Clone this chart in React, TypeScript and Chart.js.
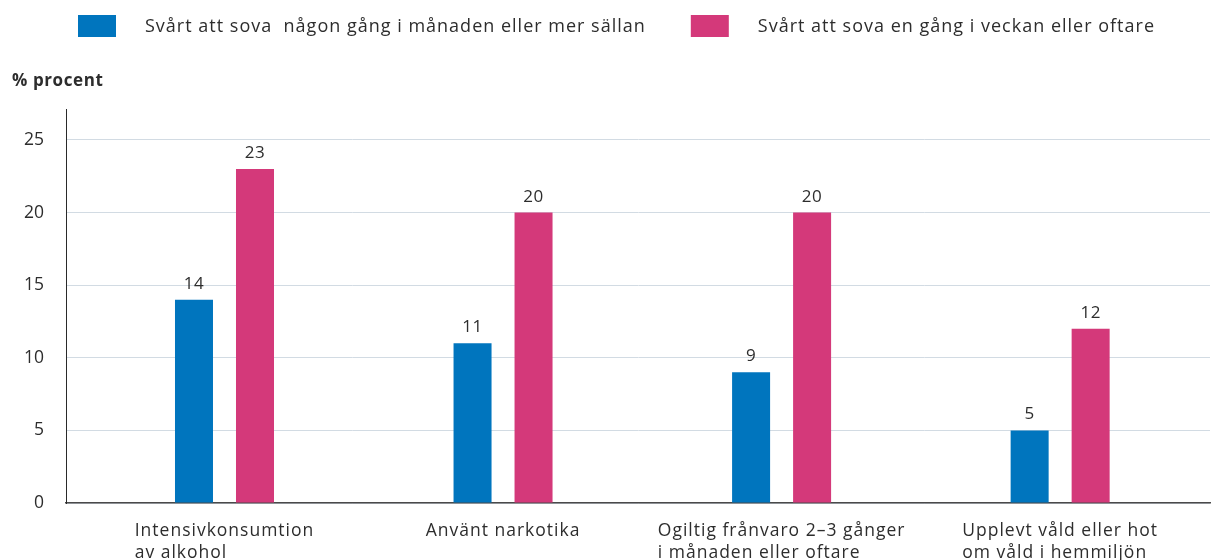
import React, { useEffect, useRef } from "react";
import { Chart, registerables } from "chart.js";

Chart.register(...registerables);

const categories: string[][] = [
  ["Intensivkonsumtion", "av alkohol"],
  ["Använt narkotika"],
  ["Ogiltig frånvaro 2–3 gånger", "i månaden eller oftare"],
  ["Upplevt våld eller hot", "om våld i hemmiljön"],
];
const seriesNames = [
  "Svårt att sova  någon gång i månaden eller mer sällan",
  "Svårt att sova en gång i veckan eller oftare",
];
const seldomValues = [14, 11, 9, 5];
const oftenValues = [23, 20, 20, 12];
const yTicks = [0, 5, 10, 15, 20, 25];
const yAxisTitle = "% procent";

const BLUE = "#0075be";
const PINK = "#d4397a";
const TEXT = "#2d2d2d";
const FONT = "'Open Sans', sans-serif";

const overlay = {
  id: "overlay",
  afterDraw(chart: any) {
    const { ctx, chartArea } = chart;
    ctx.save();
    ctx.fillStyle = TEXT;

    // legend
    ctx.font = `18px ${FONT}`;
    (ctx as any).letterSpacing = "1px";
    const boxW = 38, boxH = 22, gapText = 29, gapItem = 45;
    const colors = [BLUE, PINK];
    let x = chartArea.left + 12;
    seriesNames.forEach((name, i) => {
      ctx.fillStyle = colors[i];
      ctx.fillRect(x, 15, boxW, boxH);
      ctx.fillStyle = TEXT;
      ctx.textAlign = "left";
      ctx.textBaseline = "alphabetic";
      ctx.fillText(name, x + boxW + gapText, 32);
      x += boxW + gapText + ctx.measureText(name).width + gapItem;
    });

    // axis title
    ctx.font = `bold 17px ${FONT}`;
    (ctx as any).letterSpacing = "0.6px";
    ctx.textAlign = "left";
    ctx.fillText(yAxisTitle, 12, 86);

    // value labels
    ctx.font = `17px ${FONT}`;
    (ctx as any).letterSpacing = "0.5px";
    ctx.textAlign = "center";
    chart.data.datasets.forEach((ds: any, di: number) => {
      const meta = chart.getDatasetMeta(di);
      meta.data.forEach((bar: any, i: number) => {
        ctx.fillText(String(ds.data[i].y), bar.x, bar.y - 11);
      });
    });

    // category labels (left-aligned lines, block centred on category)
    const xs = chart.scales.x;
    ctx.font = `17.5px ${FONT}`;
    (ctx as any).letterSpacing = "1px";
    ctx.textAlign = "left";
    categories.forEach((lines, i) => {
      const cx = xs.getPixelForValue(i);
      const w = Math.max(...lines.map((l) => ctx.measureText(l).width));
      lines.forEach((l, li) => {
        ctx.fillText(l, cx - w / 2, chartArea.bottom + 33 + li * 22);
      });
    });
    ctx.restore();
  },
};

export default function App() {
  const ref = useRef<HTMLCanvasElement>(null);
  useEffect(() => {
    if (!ref.current) return;
    const chart = new Chart(ref.current, {
      type: "bar",
      data: {
        datasets: [
          {
            label: seriesNames[0],
            data: seldomValues.map((v, i) => ({ x: i, y: v })),
            backgroundColor: BLUE,
          },
          {
            label: seriesNames[1],
            data: oftenValues.map((v, i) => ({ x: i, y: v })),
            backgroundColor: PINK,
          },
        ],
      },
      options: {
        animation: false,
        responsive: true,
        maintainAspectRatio: false,
        layout: { padding: { top: 109, right: 1, left: 0, bottom: 0 } },
        datasets: { bar: { categoryPercentage: 0.438, barPercentage: 0.623 } },
        plugins: { legend: { display: false }, tooltip: { enabled: false } },
        scales: {
          x: {
            type: "linear",
            offset: false,
            min: -0.569,
            max: 3.538,
            afterBuildTicks: (s: any) => {
              s.ticks = categories.map((_, i) => ({ value: i }));
            },
            afterFit: (s: any) => {
              s.height = 57;
            },
            ticks: { display: false },
            grid: { display: false, offset: false },
            border: { display: true, color: "#4a4a4a", width: 1.5 },
          },
          y: {
            min: 0,
            max: 27.13,
            afterBuildTicks: (s: any) => {
              s.ticks = yTicks.map((v) => ({ value: v }));
            },
            afterFit: (s: any) => {
              s.width = 66;
            },
            ticks: {
              padding: 22,
              color: TEXT,
              font: { family: FONT, size: 17.5 },
            },
            grid: { color: "#d2dbe3", drawTicks: false, lineWidth: 1 },
            border: { display: true, color: "#2a2a2a", width: 1 },
          },
        },
      },
      plugins: [overlay],
    });
    return () => chart.destroy();
  }, []);
  return (
    <div style={{ position: "fixed", left: 0, top: 0, width: 1211, height: 560, background: "#fff" }}>
      <canvas ref={ref} />
    </div>
  );
}
